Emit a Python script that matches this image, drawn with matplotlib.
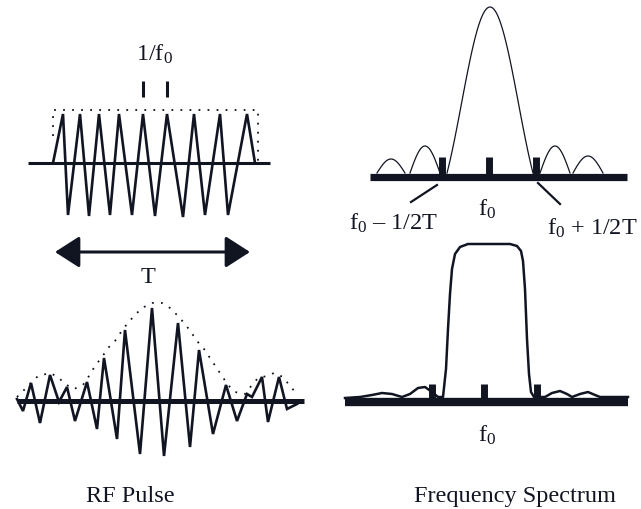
import numpy as np
import matplotlib.pyplot as plt

plt.rcParams['font.family'] = ['Liberation Serif', 'DejaVu Serif']
plt.rcParams['mathtext.fontset'] = 'custom'
plt.rcParams['mathtext.rm'] = 'Liberation Serif'
plt.rcParams['mathtext.default'] = 'regular'

INK = '#111522'
FS = 17.5

# --- top-left: rectangular RF pulse (peak / trough vertices, pixel coords) ---
rect_x = [53, 63, 68, 80, 89, 99, 110, 119, 132, 143, 155, 167, 183, 194, 205, 220, 228, 247, 255]
rect_y = [164, 115, 216, 115, 217, 115, 216, 115, 216, 115, 217, 115, 218, 115, 216, 115, 216, 115, 164]
rect_env_x = [53, 53, 258, 258]
rect_env_y = [137, 111, 111, 162]

# --- bottom-left: sinc-shaped RF pulse ---
sinc_x = [17, 23, 31, 40, 50, 59, 67, 75, 87, 97, 104, 117, 125, 140, 152, 164, 178,
          190, 199, 213, 226, 237, 247, 252, 262, 268, 279, 287, 297]
sinc_y = [400, 412, 384, 424, 376, 403, 388, 422, 383, 430, 359, 440, 331, 455, 309, 457, 324,
          448, 351, 435, 386, 422, 395, 398, 378, 423, 378, 410, 405]
sinc_env_x = [17, 23, 38, 50, 58, 65, 74, 83, 89, 95, 102, 108, 115, 121, 127, 134, 142, 152,
              162, 170, 178, 185, 191, 197, 204, 210, 216, 222, 228, 235, 245, 252, 258, 267,
              274, 283, 290, 297]
sinc_env_y = [398, 392, 377, 374, 378, 385, 390, 386, 377, 367, 358, 349, 342, 333, 325, 317,
              309, 304, 304, 309, 317, 325, 333, 342, 350, 359, 368, 377, 386, 393, 395, 386,
              379, 377, 374, 378, 387, 395]

# --- top-right: sinc spectrum lobes (start x, end x, height px) ---
spec_base = 174
main_lobe = (447, 533, 166)
side_lobes = [(377, 405, 14), (410, 440, 27), (540, 570, 27), (573, 603, 17)]
spec_ticks_top = [442, 489, 536]

# --- bottom-right: rectangular spectrum outline ---
box_x = [345, 360, 372, 382, 392, 402, 410, 418, 425, 432, 438, 443, 446, 448, 450, 452, 455,
         460, 468, 510, 517, 521, 523, 525, 527, 529, 531, 534, 545, 552, 560, 567, 572, 580,
         588, 595, 600, 628]
box_y = [399, 398, 396, 394, 395, 398, 395, 389, 388, 393, 398, 398, 370, 330, 295, 270, 255,
         248, 245, 245, 247, 252, 262, 290, 340, 375, 393, 398, 398, 394, 392, 395, 398, 395,
         393, 396, 398, 398]
spec_ticks_bot = [432, 484, 537]

fig = plt.figure(figsize=(6.41, 5.10), dpi=100)
ax = fig.add_axes([0, 0, 1, 1])
ax.set_xlim(0, 641)
ax.set_ylim(510, 0)
ax.axis('off')

dots = (0, (1, 4))

def label(x, y, s):
    ax.text(x, y, s, ha='center', va='baseline', fontsize=FS, color=INK)

# top-left pulse
ax.plot([28, 270], [164, 164], color=INK, lw=2.2, solid_capstyle='butt')
ax.plot(rect_x, rect_y, color=INK, lw=1.9, solid_joinstyle='miter')
ax.plot(rect_env_x, rect_env_y, color=INK, lw=1.3, linestyle=dots)
for xt in [143, 167]:
    ax.plot([xt, xt], [82, 98], color=INK, lw=2.2, solid_capstyle='butt')
label(155, 61, '1/f$_0$')

# duration arrow
ax.annotate('', xy=(250, 253), xytext=(55, 253),
            arrowprops=dict(arrowstyle='<|-|>,head_length=0.84,head_width=0.54',
                            color=INK, lw=2.2, shrinkA=0, shrinkB=0, mutation_scale=18))
label(148, 283, 'T')

# bottom-left pulse
ax.plot([17, 304], [402, 402], color=INK, lw=3.6, solid_capstyle='butt')
ax.plot(sinc_x, sinc_y, color=INK, lw=1.9, solid_joinstyle='miter')
ax.plot(sinc_env_x, sinc_env_y, color=INK, lw=1.3, linestyle=dots)

# top-right spectrum
ax.plot([370, 627], [178, 178], color=INK, lw=5.2, solid_capstyle='butt')
x0, x1, h = main_lobe
xs = np.linspace(x0, x1, 120)
t = (xs - (x0 + x1) / 2) / ((x1 - x0) / 2)
ax.plot(xs, spec_base - h * np.sinc(t), color=INK, lw=0.9)
for x0, x1, h in side_lobes:
    xs = np.linspace(x0, x1, 60)
    ax.plot(xs, spec_base - h * np.sin(np.pi * (xs - x0) / (x1 - x0)), color=INK, lw=0.9)
for xt in spec_ticks_top:
    ax.plot([xt, xt], [158, 176], color=INK, lw=5, solid_capstyle='butt')
ax.plot([437, 411], [186, 203], color=INK, lw=1.6)
ax.plot([538, 560], [184, 205], color=INK, lw=1.6)
label(393, 230, 'f$_0$ \u2013 1/2T')
label(487, 216, 'f$_0$')
label(592, 235, 'f$_0$ + 1/2T')

# bottom-right spectrum
ax.plot([345, 628], [403, 403], color=INK, lw=6, solid_capstyle='butt')
ax.plot(box_x, box_y, color=INK, lw=1.8)
for xt in spec_ticks_bot:
    ax.plot([xt, xt], [385, 401], color=INK, lw=5, solid_capstyle='butt')
label(487, 442, 'f$_0$')

label(130, 502, 'RF Pulse')
label(515, 502, 'Frequency Spectrum')

fig.savefig('out.png', dpi=100)
